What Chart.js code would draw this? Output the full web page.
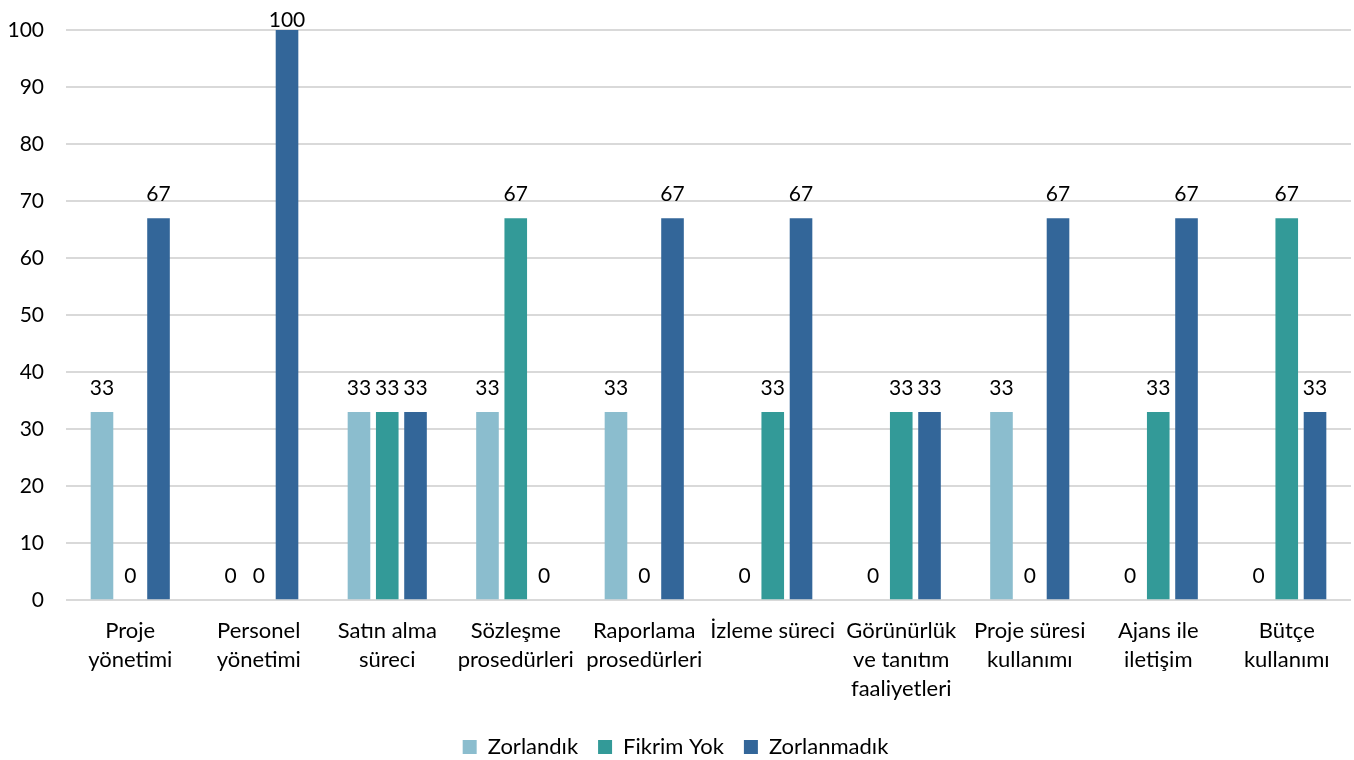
<!DOCTYPE html>
<html>
<head>
<meta charset="utf-8">
<script src="https://cdn.jsdelivr.net/npm/chart.js@4/dist/chart.umd.min.js"></script>
<style>
  html, body { margin: 0; padding: 0; background: #fff; }
  #wrap { width: 1354px; height: 760px; position: relative; }
</style>
</head>
<body>
<div id="wrap"><canvas id="myChart"></canvas></div>
<script>
const categories = [
    ['Proje', 'yönetimi'],
    ['Personel', 'yönetimi'],
    ['Satın alma', 'süreci'],
    ['Sözleşme', 'prosedürleri'],
    ['Raporlama', 'prosedürleri'],
    ['İzleme süreci'],
    ['Görünürlük', 've tanıtım', 'faaliyetleri'],
    ['Proje süresi', 'kullanımı'],
    ['Ajans ile', 'iletişim'],
    ['Bütçe', 'kullanımı']
];
const zorlandik = [33, 0, 33, 33, 33, 0, 0, 33, 0, 0];
const fikrimYok = [0, 0, 33, 67, 0, 33, 33, 0, 33, 67];
const zorlanmadik = [67, 100, 33, 0, 67, 67, 33, 67, 67, 33];

const fontFamily = 'Lato, "Open Sans", sans-serif';

// etiketler (bar üstü değerler), üstte kesilmesin diye sınırlı
const valueLabels = {
    id: 'valueLabels',
    afterDatasetsDraw(chart) {
        const ctx = chart.ctx;
        ctx.save();
        ctx.font = '21px ' + fontFamily;
        ctx.fillStyle = '#000';
        ctx.textAlign = 'center';
        ctx.textBaseline = 'alphabetic';
        chart.data.datasets.forEach((ds, i) => {
            const meta = chart.getDatasetMeta(i);
            meta.data.forEach((bar, j) => {
                ctx.fillText(String(ds.data[j]), bar.x, Math.max(bar.y - 17, 27));
            });
        });
        ctx.restore();
    }
};

new Chart(document.getElementById('myChart'), {
    type: 'bar',
    data: {
        labels: categories,
        datasets: [{
            label: 'Zorlandık',
            data: zorlandik,
            backgroundColor: '#8BBDCE'
        }, {
            label: 'Fikrim Yok',
            data: fikrimYok,
            backgroundColor: '#339A98'
        }, {
            label: 'Zorlanmadık',
            data: zorlanmadik,
            backgroundColor: '#336699'
        }]
    },
    options: {
        responsive: true,
        maintainAspectRatio: false,
        animation: false,
        datasets: {
            bar: { barPercentage: 0.8, categoryPercentage: 0.66 }
        },
        layout: { padding: { top: 30, right: 3, left: 0, bottom: -8 } },
        plugins: {
            legend: {
                position: 'bottom',
                labels: {
                    boxWidth: 14,
                    boxHeight: 14,
                    padding: 20,
                    color: '#000',
                    font: { family: fontFamily, size: 22 }
                }
            },
            tooltip: { enabled: false }
        },
        scales: {
            x: {
                afterFit(scale) { scale.height += 4; },
                grid: { display: false },
                border: { display: false },
                ticks: {
                    color: '#000',
                    maxRotation: 0,
                    autoSkip: false,
                    padding: 8,
                    font: { family: fontFamily, size: 22, lineHeight: 1.33 }
                }
            },
            y: {
                min: 0,
                max: 100,
                afterFit(scale) {
                    scale.width = 66;
                    scale.paddingTop = 0;
                    scale.paddingBottom = 0;
                },
                grid: { color: '#d9d9d9', lineWidth: 2, drawTicks: false },
                border: { display: false },
                ticks: {
                    stepSize: 10,
                    padding: 22,
                    color: '#000',
                    font: { family: fontFamily, size: 21 }
                }
            }
        }
    },
    plugins: [valueLabels]
});
</script>
</body>
</html>
